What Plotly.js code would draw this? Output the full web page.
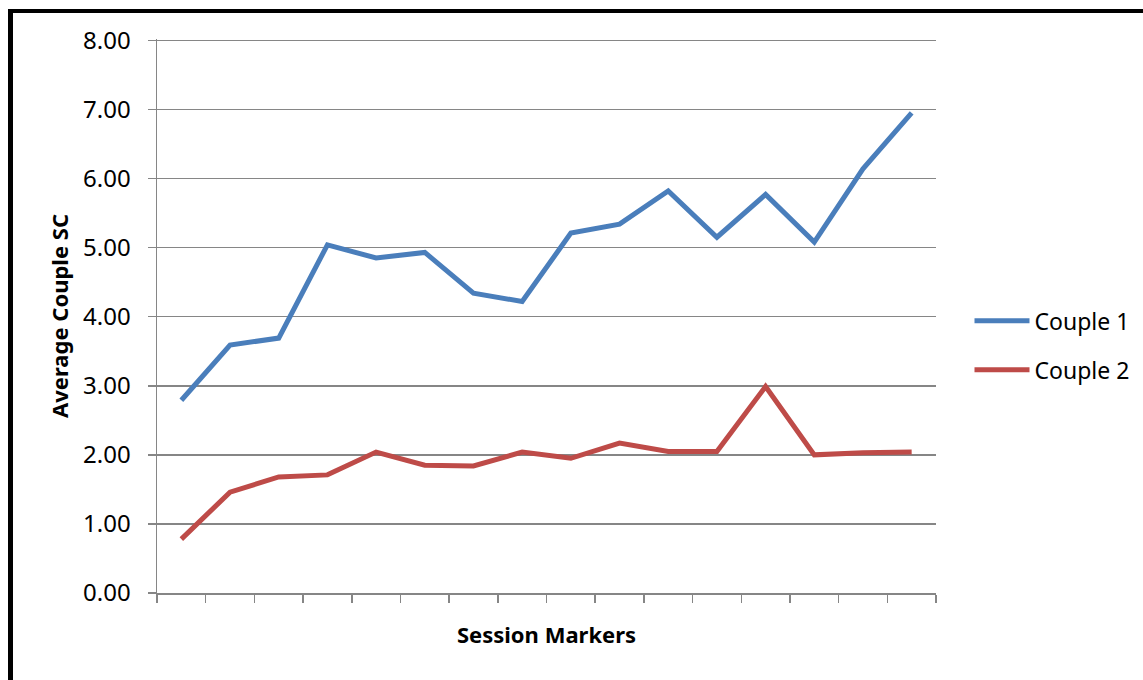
<!DOCTYPE html>
<html><head><meta charset="utf-8">
<script src="https://cdn.plot.ly/plotly-3.0.1.min.js"></script>
<style>
html,body{margin:0;padding:0;background:#fff;overflow:hidden}
#chart{position:absolute;left:0;top:0;width:1143px;height:680px}
#frame{position:absolute;left:8px;top:9px;width:1200px;height:700px;border-left:5px solid #000;border-top:4px solid #000;pointer-events:none}
</style></head><body>
<div id="chart"></div><div id="frame"></div>
<script>
const sessions = ['1','2','3','4','5','6','7','8','9','10','11','12','13','14','15','16'];
const couple1 = [2.79, 3.59, 3.69, 5.04, 4.85, 4.93, 4.34, 4.22, 5.21, 5.34, 5.82, 5.15, 5.77, 5.08, 6.14, 6.95];
const couple2 = [0.78, 1.46, 1.68, 1.71, 2.04, 1.85, 1.84, 2.04, 1.95, 2.17, 2.05, 2.05, 2.99, 2.00, 2.03, 2.04];
const seriesNames = ['Couple 1', 'Couple 2'];
const yTickVals = [0, 1, 2, 3, 4, 5, 6, 7, 8];

const FONT = 'Noto Sans, Open Sans, sans-serif';
const traces = [
  {x: sessions, y: couple1, name: seriesNames[0], type: 'scatter', mode: 'lines', legendgroup: 'a',
   line: {color: '#4a7ebb', width: 5}},
  {x: sessions, y: couple2, name: seriesNames[1], type: 'scatter', mode: 'lines', legendgroup: 'b',
   line: {color: '#be4b48', width: 5}}
];
const layout = {
  width: 1143, height: 680,
  margin: {l: 157, r: 207, t: 39, b: 87, autoexpand: false},
  paper_bgcolor: '#fff', plot_bgcolor: '#fff',
  font: {family: FONT, size: 22, color: '#000'},
  showlegend: true,
  legend: {x: 1.043, xanchor: 'left', y: 0.447, yanchor: 'middle', tracegroupgap: 16,
           itemwidth: 55, font: {family: FONT, size: 23, color: '#000'}, bgcolor: 'rgba(0,0,0,0)'},
  xaxis: {
    type: 'category', range: [-0.5, 15.5], tickson: 'boundaries',
    showticklabels: false, ticks: 'outside', ticklen: 8, tickcolor: '#868686', tickwidth: 1.5,
    showgrid: false, zeroline: false, showline: true, linecolor: '#868686', linewidth: 1.5,
    title: {text: '<b>Session Markers</b>', font: {family: FONT, size: 22, color: '#000'}, standoff: 34},
    automargin: true, fixedrange: true
  },
  yaxis: {
    range: [0, 8.02], tickvals: yTickVals, tickformat: '.2f',
    ticks: 'outside', ticklen: 8, tickcolor: '#868686', tickwidth: 1.5, ticklabelstandoff: 12,
    showgrid: true, gridcolor: '#868686', gridwidth: 1.5,
    zeroline: false, showline: true, linecolor: '#868686', linewidth: 1.5,
    tickfont: {family: FONT, size: 24, color: '#000'},
    title: {text: '<b>Average Couple SC</b>', font: {family: FONT, size: 22, color: '#000'}, standoff: 8},
    automargin: true, fixedrange: true
  }
};
Plotly.newPlot('chart', traces, layout, {displayModeBar: false, staticPlot: true});
</script>
</body></html>
